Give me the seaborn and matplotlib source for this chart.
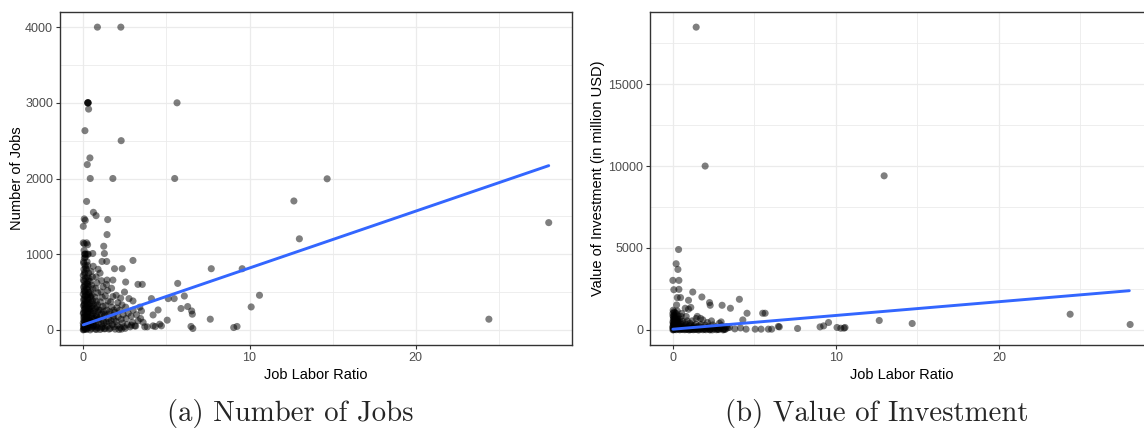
import matplotlib
matplotlib.use("Agg")
import matplotlib.pyplot as plt
import seaborn as sns
import pandas as pd
from matplotlib.ticker import MultipleLocator

# ---------------- data ----------------
# Panel (a): (job labor ratio, number of jobs)
jobs_points = [
    # sparse / outlying points
    (0.85, 4000), (2.26, 4000),
    (0.28, 3000), (0.28, 3000), (0.30, 3000), (0.26, 3000),
    (5.64, 3000), (0.32, 2917), (0.10, 2632), (2.28, 2500), (0.40, 2272), (0.24, 2184),
    (0.42, 2000), (1.78, 2000), (5.50, 2000), (0.20, 1697), (12.67, 1703), (14.67, 1996),
    (13.0, 1203), (28.0, 1417), (24.4, 141), (10.6, 457), (10.1, 303),
    (0.61, 1553), (0.77, 1509), (1.47, 1457), (0.06, 1466), (0.12, 1447), (0.00, 1368),
    (1.43, 1259), (0.06, 1137), (0.26, 1125), (0.00, 1150), (0.20, 1150), (1.23, 1105),
    (1.27, 1009), (0.57, 1009), (1.13, 904), (1.41, 904), (2.99, 917), (1.88, 808),
    (2.34, 808), (1.43, 658), (1.78, 658), (2.55, 632), (3.29, 601), (3.55, 601),
    (7.70, 808), (9.56, 808), (5.68, 614), (4.10, 413), (5.11, 413), (5.47, 413),
    (6.08, 447), (5.88, 282), (6.28, 308), (6.52, 250), (6.56, 207), (4.50, 263),
    (4.20, 197), (3.50, 250), (3.45, 150), (2.75, 413), (2.99, 382), (2.48, 500),
    (1.98, 457), (7.64, 141), (5.05, 128), (4.60, 75), (4.70, 53), (4.20, 53),
    (4.33, 44), (3.70, 40), (3.09, 53), (2.89, 62), (6.48, 45), (6.59, 18),
    (9.05, 31), (9.25, 45),
    # dense cluster near the origin
    (0.00, 0), (0.05, 10), (0.10, 20), (0.02, 35), (0.08, 50), (0.12, 70), (0.00, 90),
    (0.06, 115), (0.14, 140), (0.03, 165), (0.09, 190), (0.00, 215), (0.12, 240),
    (0.05, 265), (0.10, 295), (0.01, 320), (0.07, 350), (0.13, 380), (0.04, 410),
    (0.09, 440), (0.00, 470), (0.11, 500), (0.06, 530), (0.02, 565), (0.10, 600),
    (0.05, 640), (0.13, 680), (0.00, 720), (0.08, 760), (0.04, 800), (0.11, 850),
    (0.02, 900), (0.07, 950), (0.10, 1000), (0.15, 1000), (0.05, 1050),
    (0.03, 5), (0.08, 30), (0.01, 60), (0.11, 100), (0.04, 130), (0.07, 175), (0.02, 230),
    (0.10, 280), (0.06, 330), (0.03, 390), (0.12, 450), (0.05, 510), (0.08, 580),
    (0.01, 660), (0.09, 740), (0.14, 820), (0.03, 880), (0.12, 960), (0.08, 1000),
    (0.20, 5), (0.28, 25), (0.24, 45), (0.33, 65), (0.21, 85), (0.30, 110), (0.26, 135),
    (0.34, 160), (0.22, 185), (0.29, 215), (0.25, 245), (0.32, 275), (0.20, 305),
    (0.28, 335), (0.23, 365), (0.31, 395), (0.27, 430), (0.21, 460), (0.33, 495),
    (0.26, 530), (0.30, 570), (0.22, 610), (0.28, 650), (0.24, 700), (0.32, 750),
    (0.20, 800), (0.27, 850), (0.23, 900), (0.25, 1000), (0.30, 1000),
    (0.18, 15), (0.25, 70), (0.31, 125), (0.19, 175), (0.27, 230), (0.35, 290),
    (0.18, 350), (0.26, 410), (0.34, 470), (0.19, 545), (0.27, 600), (0.35, 680),
    (0.42, 0), (0.50, 20), (0.58, 45), (0.45, 70), (0.55, 95), (0.40, 125), (0.52, 155),
    (0.47, 185), (0.59, 215), (0.43, 245), (0.54, 280), (0.48, 310), (0.41, 345),
    (0.57, 380), (0.46, 420), (0.53, 460), (0.44, 500), (0.58, 545), (0.49, 590),
    (0.42, 640), (0.55, 700), (0.47, 770), (0.60, 840),
    (0.38, 35), (0.46, 110), (0.52, 200), (0.39, 270), (0.50, 360), (0.44, 440),
    (0.62, 60), (0.64, 150), (0.66, 250), (0.63, 340),
    (0.72, 10), (0.85, 30), (0.78, 60), (0.90, 90), (0.70, 125), (0.83, 160), (0.76, 200),
    (0.88, 240), (0.73, 285), (0.86, 330), (0.79, 380), (0.71, 430), (0.87, 490),
    (0.75, 550), (0.82, 620), (0.77, 700), (0.89, 800),
    (0.80, 5), (0.74, 45), (0.92, 140), (0.80, 180), (0.95, 260), (0.81, 300),
    (1.02, 5), (1.15, 40), (1.08, 80), (1.20, 120), (1.00, 165), (1.12, 210), (1.05, 260),
    (1.18, 310), (1.03, 370), (1.14, 430), (1.07, 500), (1.19, 570), (1.10, 650), (1.01, 750),
    (1.25, 15), (1.10, 25), (1.24, 90), (1.26, 180), (1.22, 240),
    (1.32, 15), (1.45, 50), (1.38, 100), (1.50, 150), (1.30, 200), (1.42, 260), (1.35, 320),
    (1.48, 380), (1.33, 450), (1.46, 520), (1.40, 600),
    (1.55, 10), (1.56, 100), (1.54, 210),
    (1.62, 20), (1.75, 70), (1.68, 120), (1.80, 180), (1.60, 240), (1.72, 300), (1.65, 370),
    (1.78, 440), (1.70, 550),
    (1.85, 40), (1.86, 140), (1.84, 260),
    (1.92, 10), (2.05, 60), (1.98, 110), (2.10, 170), (1.90, 230), (2.02, 290), (2.08, 360),
    (2.22, 30), (2.35, 90), (2.28, 140), (2.40, 200), (2.20, 260), (2.33, 330), (2.25, 420),
    (2.15, 5), (2.45, 40), (2.30, 10),
    (2.52, 20), (2.65, 70), (2.58, 150), (2.70, 220), (2.55, 300),
    (2.82, 40), (2.95, 100), (2.88, 180), (3.00, 260),
    (3.15, 50), (3.30, 120), (3.20, 200), (3.40, 300), (3.60, 100), (3.85, 40),
]

# Panel (b): (job labor ratio, value of investment in million USD)
invest_points = [
    # sparse / outlying points
    (1.43, 18480), (1.98, 10000), (12.96, 9404), (10.50, 103), (10.30, 100),
    (12.66, 571), (14.68, 389), (24.37, 954), (28.05, 328),
    (0.35, 4906), (0.20, 4036), (0.31, 3690), (0.00, 3021), (0.37, 3021), (0.06, 2451),
    (0.37, 2474), (0.27, 1970), (0.47, 1970), (1.22, 2310), (1.78, 2006), (0.96, 1805),
    (2.25, 1665), (2.29, 1501), (3.02, 1501), (4.08, 1866), (3.53, 1319), (4.55, 1015),
    (5.51, 1015), (5.66, 1015), (4.29, 608), (0.76, 1319), (0.96, 1258), (0.51, 815),
    (0.82, 815), (1.43, 693), (1.84, 608), (2.37, 547), (2.96, 486),
    (3.47, 146), (4.49, 43), (5.05, 43), (5.41, 43), (5.86, 43), (6.06, 43), (6.47, 207),
    (6.53, 182), (7.65, 85), (9.03, 182), (9.25, 243), (9.55, 450), (10.07, 146),
    (10.56, 146), (4.15, 120), (3.80, 60),
    # dense cluster near the origin
    (0.00, 0), (0.05, 20), (0.10, 50), (0.02, 80), (0.08, 120), (0.13, 160), (0.00, 200),
    (0.06, 250), (0.11, 300), (0.03, 350), (0.09, 400), (0.14, 450), (0.01, 500),
    (0.07, 600), (0.12, 700), (0.04, 800), (0.10, 900), (0.00, 1000), (0.06, 1100), (0.02, 1200),
    (0.04, 10), (0.09, 90), (0.01, 150), (0.12, 230), (0.05, 320), (0.02, 430),
    (0.10, 550), (0.03, 650), (0.08, 750), (0.01, 850), (0.11, 1050),
    (0.20, 10), (0.28, 40), (0.24, 90), (0.33, 150), (0.21, 220), (0.30, 300), (0.26, 380),
    (0.34, 460), (0.22, 550), (0.29, 650), (0.25, 750), (0.32, 850), (0.20, 1000),
    (0.27, 1150), (0.23, 1520),
    (0.18, 60), (0.26, 180), (0.31, 260), (0.17, 330), (0.23, 420), (0.29, 520), (0.19, 700),
    (0.42, 5), (0.50, 30), (0.58, 70), (0.45, 120), (0.55, 180), (0.40, 250), (0.52, 330),
    (0.47, 420), (0.59, 520), (0.43, 650), (0.54, 1000),
    (0.38, 50), (0.48, 90), (0.56, 140), (0.44, 200), (0.61, 20), (0.64, 110),
    (0.72, 10), (0.85, 50), (0.78, 100), (0.90, 160), (0.70, 230), (0.83, 320), (0.76, 420),
    (0.88, 550), (1.10, 1370),
    (0.80, 20), (0.93, 80), (0.74, 150), (0.96, 10),
    (1.02, 0), (1.15, 40), (1.08, 90), (1.20, 150), (1.00, 220), (1.12, 300), (1.05, 400),
    (1.18, 550),
    (1.25, 10), (1.10, 20), (1.27, 120),
    (1.32, 20), (1.45, 60), (1.38, 110), (1.50, 170), (1.30, 250), (1.42, 350), (1.50, 820),
    (1.55, 0), (1.40, 30), (1.57, 90),
    (1.62, 5), (1.75, 50), (1.68, 100), (1.80, 160), (1.60, 240), (1.72, 330), (1.70, 700),
    (1.85, 10), (1.90, 80), (1.95, 30),
    (2.02, 10), (2.15, 60), (2.08, 120), (2.20, 190), (2.00, 280), (2.12, 450),
    (2.28, 0), (2.32, 80), (2.25, 20),
    (2.42, 0), (2.55, 50), (2.48, 110), (2.60, 180), (2.45, 300),
    (2.68, 10), (2.72, 90), (2.75, 30),
    (2.82, 20), (2.95, 80), (2.88, 150), (3.00, 250), (2.85, 400),
    (3.08, 0), (3.12, 60), (3.16, 20),
    (3.22, 40), (3.35, 120), (3.28, 200),
]

# fitted linear trend lines (end points)
fit_ratio = [0.0, 28.0]
fit_jobs = [66, 2170]
fit_invest = [40, 2390]

x_label = "Job Labor Ratio"
y_label_a = "Number of Jobs"
y_label_b = "Value of Investment (in million USD)"
caption_a = "(a) Number of Jobs"
caption_b = "(b) Value of Investment"

# ---------------- styling ----------------
sns.set_style("white")
plt.rcParams["font.family"] = ["Liberation Sans", "DejaVu Sans"]

W, H = 1144, 434
fig = plt.figure(figsize=(W / 100, H / 100), dpi=100)
ax_a = fig.add_axes([60 / W, 89 / H, 512 / W, 333 / H])
ax_b = fig.add_axes([650 / W, 89 / H, 503 / W, 333 / H])


def draw(ax, points, fit_y, ylab, ymajor, yminor):
    df = pd.DataFrame(points, columns=["ratio", "value"])
    sns.scatterplot(data=df, x="ratio", y="value", ax=ax, color="black",
                    alpha=0.5, s=26, linewidth=0, edgecolor="none", zorder=3)
    sns.lineplot(x=fit_ratio, y=fit_y, ax=ax, color="#3366FF", linewidth=2.1,
                 estimator=None, zorder=4)
    xr = df.ratio.max() - df.ratio.min()
    yr = df.value.max() - df.value.min()
    ax.set_xlim(df.ratio.min() - 0.05 * xr, df.ratio.max() + 0.05 * xr)
    ax.set_ylim(df.value.min() - 0.05 * yr, df.value.max() + 0.05 * yr)
    ax.xaxis.set_major_locator(MultipleLocator(10))
    ax.xaxis.set_minor_locator(MultipleLocator(5))
    ax.yaxis.set_major_locator(MultipleLocator(ymajor))
    ax.yaxis.set_minor_locator(MultipleLocator(yminor))
    ax.grid(True, which="major", color="#EBEBEB", linewidth=0.9)
    ax.grid(True, which="minor", color="#EBEBEB", linewidth=0.6)
    ax.set_axisbelow(True)
    ax.tick_params(which="major", length=3, width=0.8, color="#333333",
                   labelcolor="#4D4D4D", labelsize=9, pad=2,
                   bottom=True, left=True)
    ax.tick_params(which="minor", length=0)
    for sp in ax.spines.values():
        sp.set_color("#333333")
        sp.set_linewidth(1.0)
    ax.set_xlabel(x_label, fontsize=10.5, color="black")
    ax.set_ylabel(ylab, fontsize=10.5, color="black")


draw(ax_a, jobs_points, fit_jobs, y_label_a, 1000, 500)
draw(ax_b, invest_points, fit_invest, y_label_b, 5000, 2500)

ax_a.xaxis.set_label_coords(0.5, -0.068)
ax_b.xaxis.set_label_coords(0.5, -0.068)
ax_a.yaxis.set_label_coords(-0.07, 0.5)
ax_b.yaxis.set_label_coords(-0.089, 0.5)

fig.text(290 / W, (H - 413) / H, caption_a, fontfamily="cmr10", fontsize=20.7,
         ha="center", va="center")
fig.text(725 / W, (H - 413) / H, caption_b, fontfamily="cmr10", fontsize=20.7,
         ha="left", va="center")

fig.savefig("out.png", dpi=100)
